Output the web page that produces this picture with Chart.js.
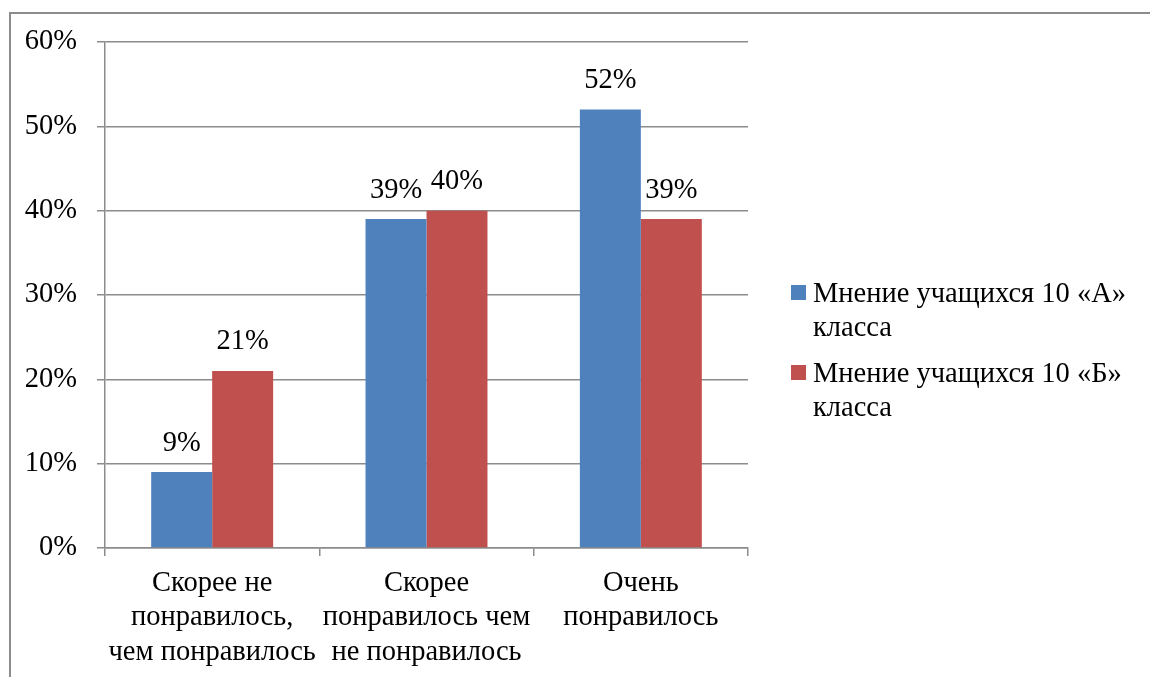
<!DOCTYPE html>
<html>
<head>
<meta charset="utf-8">
<script src="https://cdn.jsdelivr.net/npm/chart.js@4"></script>
<style>
    body { margin: 0; background: #fff; overflow: hidden; }
    #wrap { position: relative; width: 1150px; height: 677px; }
    #frame {
        position: absolute; left: 9px; top: 12px; width: 1200px; height: 700px;
        border-left: 2px solid #8c8c8c; border-top: 2px solid #8c8c8c;
    }
    #chart { position: absolute; left: 0; top: 0; }
    #legend {
        position: absolute; left: 791px; top: 276px; width: 355px;
        font-family: "Liberation Serif", "Times New Roman", serif; font-size: 28.5px; color: #000;
    }
    .item { position: relative; padding-left: 22px; line-height: 34px; margin-bottom: 12px; white-space: nowrap; }
    .box { position: absolute; left: 0; top: 9px; width: 15px; height: 15px; }
</style>
</head>
<body>
<div id="wrap">
    <div id="frame"></div>
    <canvas id="chart" width="1150" height="677"></canvas>
    <div id="legend"></div>
</div>
<script>
const categories = [
    ['Скорее не', 'понравилось,', 'чем понравилось'],
    ['Скорее', 'понравилось чем', 'не понравилось'],
    ['Очень', 'понравилось']
];
const seriesNames = [['Мнение учащихся 10 «А»', 'класса'], ['Мнение учащихся 10 «Б»', 'класса']];
const classA = [9, 39, 52];
const classB = [21, 40, 39];
const colors = ['#4F81BD', '#C0504D'];

const serif = '"Liberation Serif", "Times New Roman", serif';

// value labels above each bar
const barLabels = {
    id: 'barLabels',
    afterDatasetsDraw(chart) {
        const ctx = chart.ctx;
        ctx.save();
        ctx.font = '28.5px ' + serif;
        ctx.fillStyle = '#000';
        ctx.textAlign = 'center';
        ctx.textBaseline = 'middle';
        chart.data.datasets.forEach((ds, i) => {
            chart.getDatasetMeta(i).data.forEach((bar, j) => {
                ctx.fillText(ds.data[j] + '%', bar.x, bar.y - 29);
            });
        });
        ctx.restore();
    }
};

const ctx = document.getElementById('chart').getContext('2d');
new Chart(ctx, {
    type: 'bar',
    data: {
        labels: categories,
        datasets: [
            { label: seriesNames[0].join(' '), data: classA, backgroundColor: colors[0] },
            { label: seriesNames[1].join(' '), data: classB, backgroundColor: colors[1] }
        ]
    },
    options: {
        responsive: false,
        animation: false,
        layout: { padding: { left: 0, right: 402, top: 42, bottom: 0 } },
        datasets: { bar: { categoryPercentage: 0.569, barPercentage: 1.0 } },
        plugins: {
            legend: { display: false },
            tooltip: { enabled: false }
        },
        scales: {
            x: {
                afterFit: function(scale) { scale.height = 129; },
                grid: { drawOnChartArea: false, drawTicks: true, tickLength: 8, color: '#8c8c8c', lineWidth: 1.5 },
                border: { color: '#8c8c8c', width: 1.5 },
                ticks: {
                    color: '#000',
                    padding: 10,
                    maxRotation: 0,
                    autoSkip: false,
                    font: { family: serif, size: 28.5, lineHeight: 1.21 }
                }
            },
            y: {
                min: 0,
                max: 60,
                afterFit: function(scale) { scale.width = 105; },
                grid: { color: '#8c8c8c', lineWidth: 1.5, tickLength: 8 },
                border: { color: '#8c8c8c', width: 1.5 },
                ticks: {
                    stepSize: 10,
                    color: '#000',
                    padding: 20,
                    font: { family: serif, size: 28.5 },
                    callback: function(v) { return v + '%'; }
                }
            }
        }
    },
    plugins: [barLabels]
});

// legend with wrapped text
const legend = document.getElementById('legend');
seriesNames.forEach((name, i) => {
    const item = document.createElement('div');
    item.className = 'item';
    item.innerHTML = '<span class="box" style="background:' + colors[i] + '"></span>' + name.join('<br>');
    legend.appendChild(item);
});
</script>
</body>
</html>
